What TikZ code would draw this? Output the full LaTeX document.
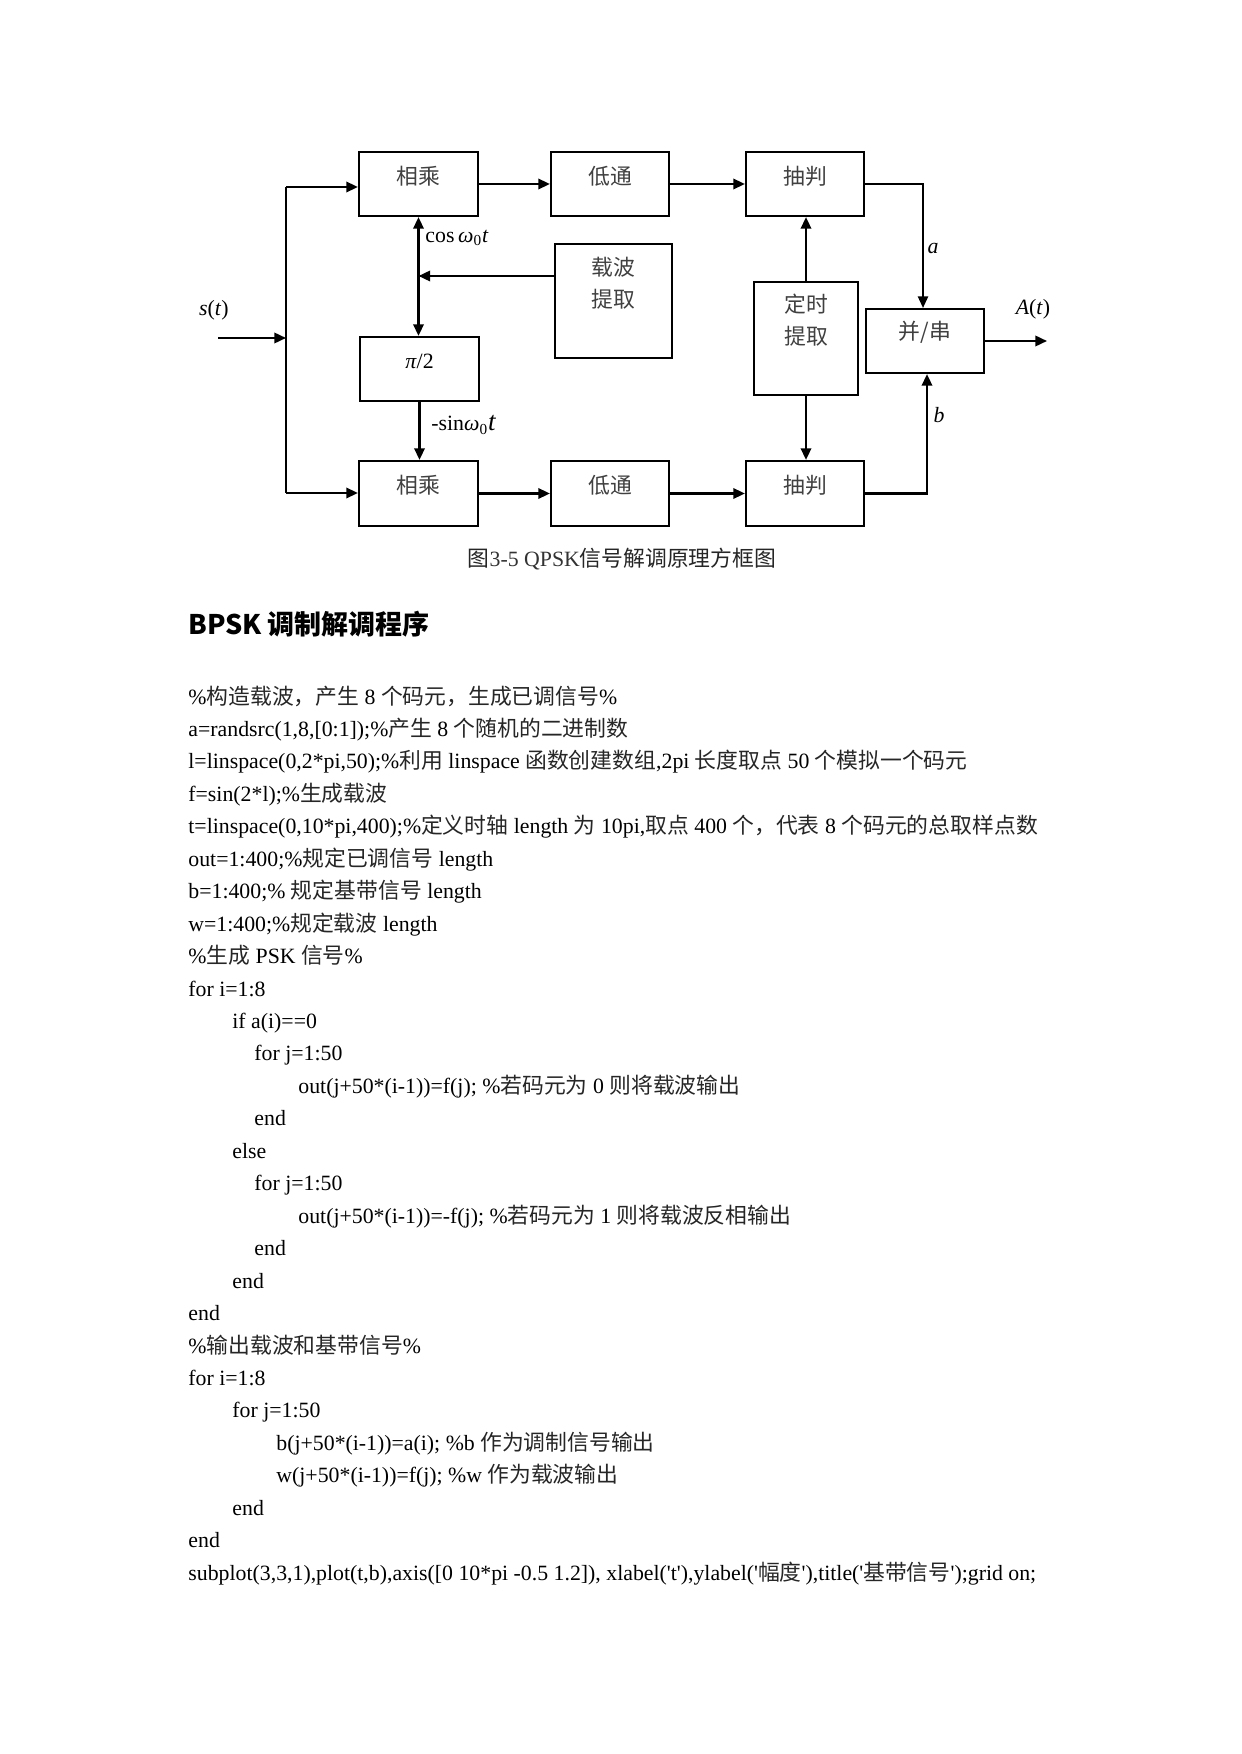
\documentclass[tikz,border=0pt]{standalone}
\usepackage{fontspec}
\newfontfamily\lat{Liberation Serif}
\newfontfamily\cjk{Noto Sans CJK SC}
\newcommand\zh[1]{{\cjk\color{black!85}#1}}
\usetikzlibrary{arrows.meta}
\newlength\px
\setlength\px{0.169218mm}
\tikzset{
  every node/.style={font=\lat\fontsize{10.5}{12.6}\selectfont},
  box/.style={draw, line width=1.05pt, inner sep=0pt, minimum width=118\px, minimum height=64\px},
  lab/.style={font=\cjk\fontsize{10.5}{15.4}\selectfont, text=black!75, inner sep=0pt, align=center},
  tip/.tip={Triangle[length=5.6pt,width=5pt]},
  arr/.style={line width=1.05pt, -tip},
  darr/.style={line width=1.05pt, tip-tip},
  ln/.style={line width=1.05pt},
  txt/.style={inner sep=0pt},
  code/.style={anchor=base west, inner sep=0pt},
}
\begin{document}
\begin{tikzpicture}[x=0.169218mm, y=-0.169218mm]
\fill[white] (0,0) rectangle (1241,1754);
\useasboundingbox (0,0) rectangle (1241,1754);

% ---- blocks ----
\node[box, minimum width=119\px, label={[lab,name=m1t,yshift=8\px]center:相乘}] (m1) at (418.5,184) {};
\node[box, label={[lab,name=l1t,yshift=8\px]center:低通}] (l1) at (610,184) {};
\node[box, label={[lab,name=d1t,yshift=8\px]center:抽判}] (d1) at (805,184) {};
\node[box, minimum width=119\px, minimum height=65\px, label={[lab,name=m2t,yshift=8\px]center:相乘}] (m2) at (418.5,493.5) {};
\node[box, minimum height=65\px, label={[lab,name=l2t,yshift=8\px]center:低通}] (l2) at (610,493.5) {};
\node[box, minimum height=65\px, label={[lab,name=d2t,yshift=8\px]center:抽判}] (d2) at (805,493.5) {};
\node[box, minimum width=119\px, label={[lab,name=pht,yshift=7.5\px,font=\lat\fontsize{10.5}{12.6}\selectfont,text=black]center:\textit{π}/2}] (ph) at (419.5,369) {};
\node[box, minimum width=117\px, minimum height=114\px, label={[lab,name=crt,yshift=18\px]center:载波\\提取}] (cr) at (613.5,301) {};
\node[box, minimum width=104\px, minimum height=113\px, label={[lab,name=tmt,yshift=18\px]center:定时\\提取}] (tm) at (806,338.5) {};
\node[box, label={[lab,name=pst,yshift=9\px]center:并/串}] (ps) at (925,341) {};

% ---- connectors ----
\coordinate (sin) at (218,338);
\coordinate (jm) at (286,338);
\coordinate (jt) at (286,187);
\coordinate (jb) at (286,493);
\coordinate (cy) at (0,276);
\coordinate (out) at (1047,341);
\draw[arr] (sin) -- (jm);
\draw[ln] (jt) -- (jb);
\draw[arr] (jt) -- (jt -| m1.west);
\draw[arr] (jb) -- (jb -| m2.west);
\draw[arr] (m1.east) -- (l1.west);
\draw[arr] (l1.east) -- (d1.west);
\draw[arr] (m2.east) -- (l2.west);
\draw[arr] (l2.east) -- (d2.west);
\draw[darr] (m1.south) -- (m1.south |- ph.north);
\draw[arr] (cr.west |- cy) -- (m1.south |- cy);
\draw[arr] (ph.south) -- (ph.south |- m2.north);
\draw[arr] (tm.north) -- (tm.north |- d1.south);
\draw[arr] (tm.south) -- (tm.south |- d2.north);
\draw[arr, line width=0.7pt] (d1.east) -| ([xshift=-2\px]ps.north);
\draw[arr] (d2.east) -| ([xshift=2\px]ps.south);
\draw[arr] (ps.east) -- (out);

% ---- signal labels ----
\node[txt] (st) at (214,310) {\textit{s}(\textit{t})};
\node[txt, anchor=west] (cosl) at (425,238) {cos\,\textit{ω}\textsubscript{0}\textit{t}};
\node[txt, anchor=west] (sinl) at (431,425) {-sin\textit{ω}\textsubscript{0}{\fontsize{13}{13}\selectfont\textit{t}}};
\node[txt] (al) at (933,248) {\textit{a}};
\node[txt] (bl) at (939,415) {\textit{b}};
\node[txt] (At) at (1033,309) {\textit{A}(\textit{t})};

% ---- caption and heading ----
\node[txt, text=black!80] (cap) at (622,559) {\zh{图}3-5 QPSK\zh{信号解调原理方框图}};
\node[txt, anchor=west] (hd) at (188,624) {\cjk\bfseries\fontsize{13}{16}\selectfont BPSK 调制解调程序};

% ---- program text ----
\node[code] (c0) at (188,{704+32.45*0}) {\%\zh{构造载波，产生} 8 \zh{个码元，生成已调信号}\%};
\node[code] (c1) at (188,{704+32.45*1}) {a=randsrc(1,8,[0:1]);\%\zh{产生} 8 \zh{个随机的二进制数}};
\node[code] (c2) at (188,{704+32.45*2}) {l=linspace(0,2*pi,50);\%\zh{利用} linspace \zh{函数创建数组},2pi \zh{长度取点} 50 \zh{个模拟一个码元}};
\node[code] (c3) at (188,{704+32.45*3}) {f=sin(2*l);\%\zh{生成载波}};
\node[code] (c4) at (188,{704+32.45*4}) {t=linspace(0,10*pi,400);\%\zh{定义时轴} length \zh{为} 10pi,\zh{取点} 400 \zh{个，代表} 8 \zh{个码元的总取样点数}};
\node[code] (c5) at (188,{704+32.45*5}) {out=1:400;\%\zh{规定已调信号} length};
\node[code] (c6) at (188,{704+32.45*6}) {b=1:400;\% \zh{规定基带信号} length};
\node[code] (c7) at (188,{704+32.45*7}) {w=1:400;\%\zh{规定载波} length};
\node[code] (c8) at (188,{704+32.45*8}) {\%\zh{生成} PSK \zh{信号}\%};
\node[code] (c9) at (188,{704+32.45*9}) {for i=1:8};
\node[code] (c10) at (232,{704+32.45*10}) {if a(i)==0};
\node[code] (c11) at (254,{704+32.45*11}) {for j=1:50};
\node[code] (c12) at (298,{704+32.45*12}) {out(j+50*(i-1))=f(j); \%\zh{若码元为} 0 \zh{则将载波输出}};
\node[code] (c13) at (254,{704+32.45*13}) {end};
\node[code] (c14) at (232,{704+32.45*14}) {else};
\node[code] (c15) at (254,{704+32.45*15}) {for j=1:50};
\node[code] (c16) at (298,{704+32.45*16}) {out(j+50*(i-1))=-f(j); \%\zh{若码元为} 1 \zh{则将载波反相输出}};
\node[code] (c17) at (254,{704+32.45*17}) {end};
\node[code] (c18) at (232,{704+32.45*18}) {end};
\node[code] (c19) at (188,{704+32.45*19}) {end};
\node[code] (c20) at (188,{704+32.45*20}) {\%\zh{输出载波和基带信号}\%};
\node[code] (c21) at (188,{704+32.45*21}) {for i=1:8};
\node[code] (c22) at (232,{704+32.45*22}) {for j=1:50};
\node[code] (c23) at (276,{704+32.45*23}) {b(j+50*(i-1))=a(i); \%b \zh{作为调制信号输出}};
\node[code] (c24) at (276,{704+32.45*24}) {w(j+50*(i-1))=f(j); \%w \zh{作为载波输出}};
\node[code] (c25) at (232,{704+32.45*25}) {end};
\node[code] (c26) at (188,{704+32.45*26}) {end};
\node[code] (c27) at (188,{704+32.45*27}) {subplot(3,3,1),plot(t,b),axis([0 10*pi -0.5 1.2]), xlabel('t'),ylabel('\zh{幅度}'),title('\zh{基带信号}');grid on;};
\end{tikzpicture}
\end{document}
